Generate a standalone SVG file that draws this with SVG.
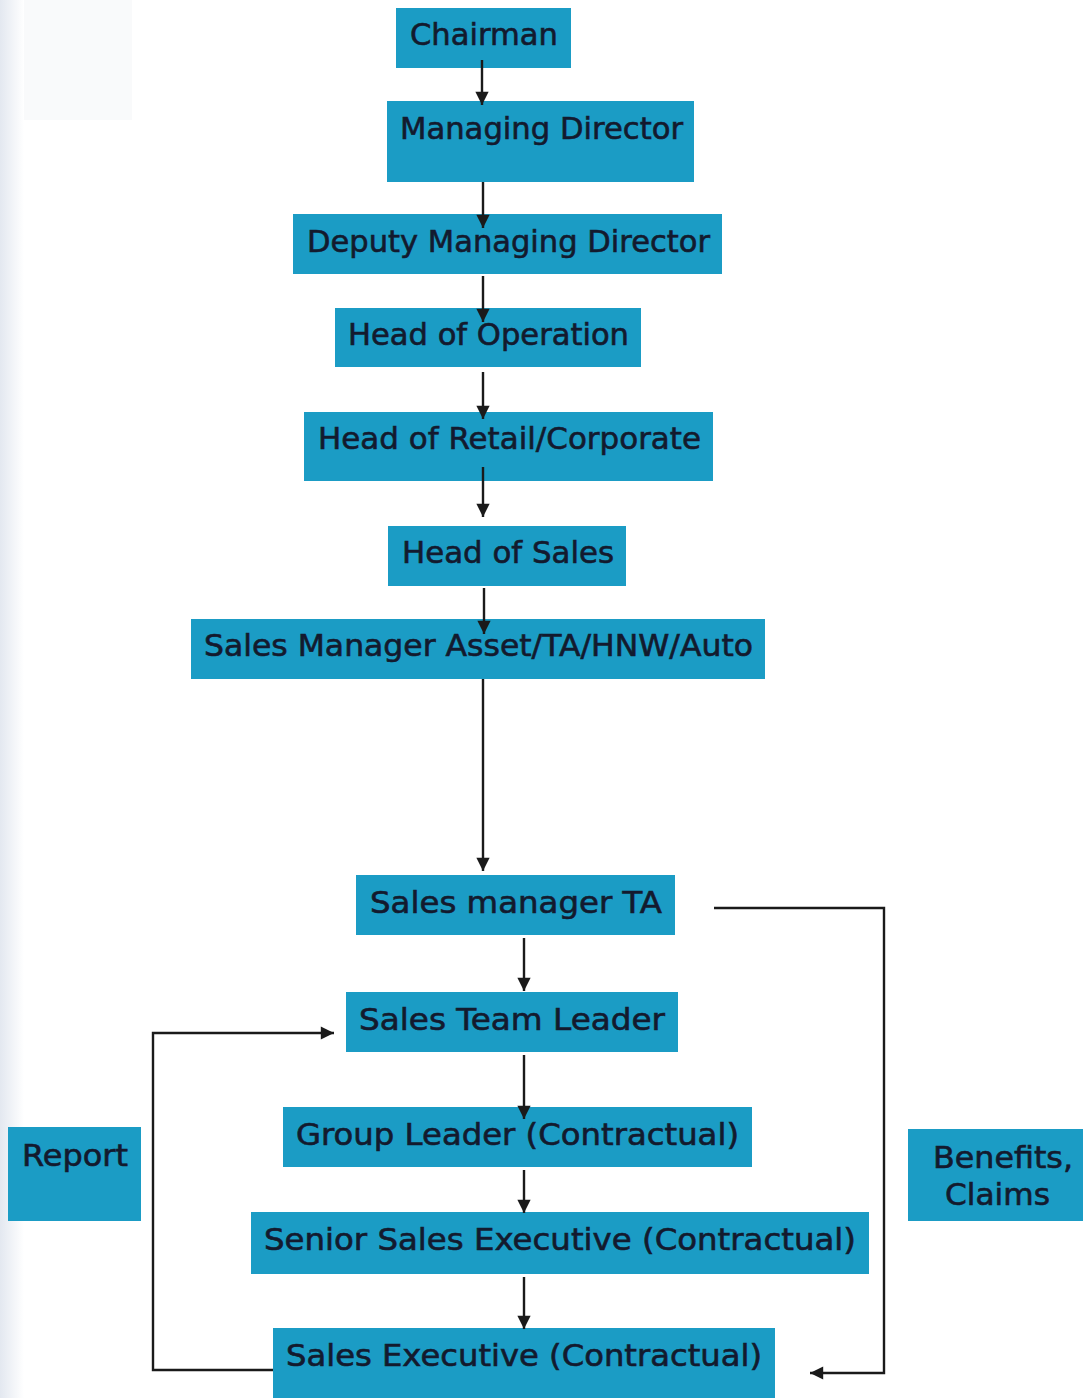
<svg xmlns="http://www.w3.org/2000/svg" width="1083" height="1398" viewBox="0 0 1083 1398">
<defs>
<style>
.box{fill:#1b9cc5;}
.t{font-family:"DejaVu Sans","Liberation Sans",sans-serif;font-size:30px;fill:#131a2e;stroke:#131a2e;stroke-width:0.6;}
.c{fill:none;stroke:#1a1a1a;stroke-width:2.4;}
</style>
<marker id="ah" viewBox="0 0 10 10" refX="10" refY="5" markerWidth="6.5" markerHeight="5.5" markerUnits="strokeWidth" orient="auto">
<path d="M0,0 L10,5 L0,10 Z" fill="#1a1a1a"/>
</marker>
<linearGradient id="edge" x1="0" y1="0" x2="1" y2="0">
<stop offset="0" stop-color="#e3e8f0"/>
<stop offset="1" stop-color="#ffffff"/>
</linearGradient>
</defs>
<rect width="1083" height="1398" fill="#ffffff"/>
<rect x="20" y="0" width="112" height="120" fill="#f9fafb"/>
<rect x="0" y="0" width="24" height="1398" fill="url(#edge)"/>

<g id="chairman"><rect class="box" x="396" y="8" width="175" height="60"/><text class="t" x="410" y="45" textLength="148" lengthAdjust="spacingAndGlyphs">Chairman</text></g>
<g id="managing-director"><rect class="box" x="387" y="101" width="307" height="81"/><text class="t" x="400" y="139" textLength="283" lengthAdjust="spacingAndGlyphs">Managing Director</text></g>
<g id="deputy-managing-director"><rect class="box" x="293" y="214" width="429" height="60"/><text class="t" x="307" y="252" textLength="403" lengthAdjust="spacingAndGlyphs">Deputy Managing Director</text></g>
<g id="head-of-operation"><rect class="box" x="335" y="308" width="306" height="59"/><text class="t" x="348" y="345" textLength="281" lengthAdjust="spacingAndGlyphs">Head of Operation</text></g>
<g id="head-of-retail-corporate"><rect class="box" x="304" y="412" width="409" height="69"/><text class="t" x="318" y="449" textLength="383" lengthAdjust="spacingAndGlyphs">Head of Retail/Corporate</text></g>
<g id="head-of-sales"><rect class="box" x="388" y="526" width="238" height="60"/><text class="t" x="402" y="563" textLength="212" lengthAdjust="spacingAndGlyphs">Head of Sales</text></g>
<g id="sales-manager-asset"><rect class="box" x="191" y="619" width="574" height="60"/><text class="t" x="204" y="656" textLength="549" lengthAdjust="spacingAndGlyphs">Sales Manager Asset/TA/HNW/Auto</text></g>
<g id="sales-manager-ta"><rect class="box" x="356" y="875" width="319" height="60"/><text class="t" x="370" y="913" textLength="292" lengthAdjust="spacingAndGlyphs">Sales manager TA</text></g>
<g id="sales-team-leader"><rect class="box" x="346" y="992" width="332" height="60"/><text class="t" x="359" y="1030" textLength="306" lengthAdjust="spacingAndGlyphs">Sales Team Leader</text></g>
<g id="group-leader"><rect class="box" x="283" y="1107" width="469" height="60"/><text class="t" x="296" y="1145" textLength="443" lengthAdjust="spacingAndGlyphs">Group Leader (Contractual)</text></g>
<g id="senior-sales-executive"><rect class="box" x="251" y="1212" width="618" height="62"/><text class="t" x="264" y="1250" textLength="592" lengthAdjust="spacingAndGlyphs">Senior Sales Executive (Contractual)</text></g>
<g id="sales-executive"><rect class="box" x="273" y="1328" width="502" height="70"/><text class="t" x="286" y="1366" textLength="476" lengthAdjust="spacingAndGlyphs">Sales Executive (Contractual)</text></g>
<g id="report"><rect class="box" x="8" y="1127" width="133" height="94"/><text class="t" x="22" y="1166" textLength="106" lengthAdjust="spacingAndGlyphs">Report</text></g>
<g id="benefits-claims"><rect class="box" x="908" y="1129" width="175" height="92"/><text class="t" x="933" y="1168" textLength="140" lengthAdjust="spacingAndGlyphs">Benefits,</text><text class="t" x="945" y="1205" textLength="105" lengthAdjust="spacingAndGlyphs">Claims</text></g>

<g id="connectors">
<path class="c" d="M482,60 V105" marker-end="url(#ah)"/>
<path class="c" d="M483,182 V228" marker-end="url(#ah)"/>
<path class="c" d="M483,276 V322" marker-end="url(#ah)"/>
<path class="c" d="M483,372 V419" marker-end="url(#ah)"/>
<path class="c" d="M483,467 V517" marker-end="url(#ah)"/>
<path class="c" d="M484,588 V634" marker-end="url(#ah)"/>
<path class="c" d="M483,679 V871" marker-end="url(#ah)"/>
<path class="c" d="M524,938 V991" marker-end="url(#ah)"/>
<path class="c" d="M524,1055 V1119" marker-end="url(#ah)"/>
<path class="c" d="M524,1170 V1213" marker-end="url(#ah)"/>
<path class="c" d="M524,1277 V1329" marker-end="url(#ah)"/>
<path class="c" d="M273,1370 H153 V1033 H334" marker-end="url(#ah)"/>
<path class="c" d="M714,908 H884 V1373 H810" marker-end="url(#ah)"/>
</g>
</svg>
